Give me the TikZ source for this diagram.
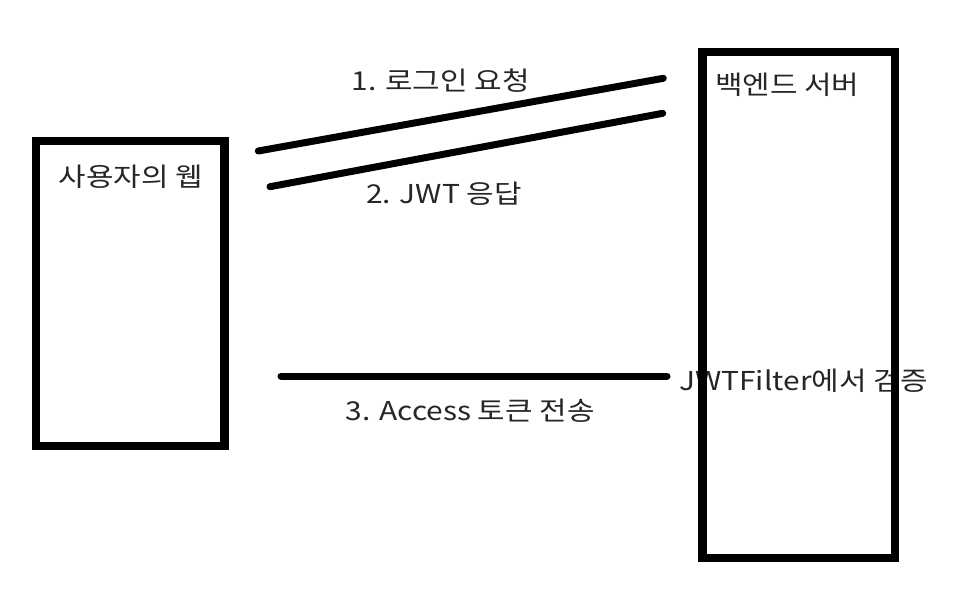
\documentclass[tikz,border=0pt]{standalone}
\usepackage{fontspec}
\newfontfamily\kr[FakeStretch=1.15]{Noto Sans CJK KR}
\begin{document}
\begin{tikzpicture}[x=1pt,y=-1pt,
  lbl/.style={font=\kr\fontsize{26}{31}\selectfont, inner sep=0pt, text=black!85},
  boxline/.style={draw=black, line width=8.5pt, line join=miter},
  conn/.style={draw=black, line width=7pt, line cap=round}]
\useasboundingbox[fill=white] (0,0) rectangle (954,600);
% texts
\node[lbl] (tweb) at (131,176.5) {사용자의 웹};
\node[lbl, anchor=west] (tsrv) at (715,85) {백엔드 서버};
\node[lbl] (t1) at (440.5,81) {1. 로그인 요청};
\node[lbl] (t2) at (444,194) {2. JWT 응답};
\node[lbl] (t3) at (470,410.5) {3. Access 토큰 전송};
\node[lbl, anchor=west] (tflt) at (679,381) {JWTFilter에서 검증};
% boxes
\node[boxline, minimum width=188.5pt, minimum height=305pt, inner sep=0pt] (web) at (130.25,293.5) {};
\node[boxline, minimum width=192.5pt, minimum height=506pt, inner sep=0pt] (srv) at (798.75,305) {};
% connector ends
\coordinate (a1) at (258.3,151);
\coordinate (b1) at (663.3,78.3);
\coordinate (a2) at (270,186.7);
\coordinate (b2) at (662.7,113.3);
\coordinate (a3) at (281,376);
\coordinate (b3) at (667,376);
\draw[conn] (a1) -- (b1);
\draw[conn] (a2) -- (b2);
\draw[conn] (a3) -- (b3);
\end{tikzpicture}
\end{document}
